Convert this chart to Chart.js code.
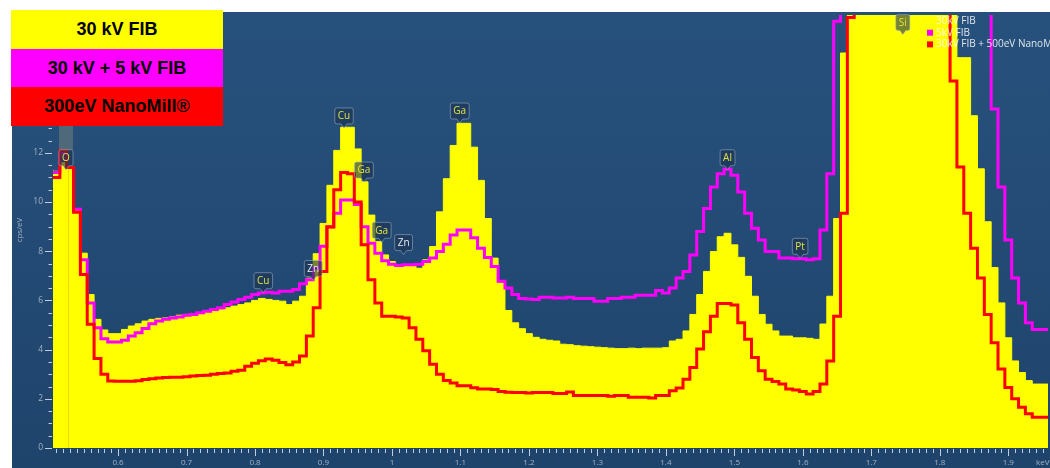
<!DOCTYPE html>
<html>
<head>
<meta charset="utf-8">
<script src="https://cdn.jsdelivr.net/npm/chart.js@4.4.1/dist/chart.umd.min.js"></script>
<style>
  body { margin: 0; background: #fff; }
  #wrap { position: relative; width: 1050px; height: 468px; overflow: hidden; }
  .key {
    position: absolute; left: 11px; width: 212px; height: 39px;
    display: flex; align-items: center; justify-content: center;
    font: bold 18px "Liberation Sans", Arial, sans-serif; color: #000;
  }
</style>
</head>
<body>
<div id="wrap">
  <canvas id="spectrum" width="1050" height="468"></canvas>
</div>
<script>
// Spectrum bins are 10 eV wide, first bin centred on 0.50 keV
const binStart = 0.50;
const binWidth = 0.01;

// 30 kV FIB (yellow filled histogram), cps/eV
const fib30 = [
  11.3, 11.25, 11.6, 11.35, 9.7, 7.92, 6.24, 5.23, 4.8, 4.65,
  4.65, 4.82, 4.96, 5.05, 5.16, 5.23, 5.27, 5.29, 5.33, 5.4,
  5.43, 5.47, 5.5, 5.54, 5.56, 5.62, 5.7, 5.77, 5.83, 5.9,
  6.0, 6.08, 6.04, 6.0, 5.97, 5.83, 5.97, 6.17, 6.9, 7.9,
  9.13, 10.68, 12.1, 13.04, 13.04, 12.16, 10.82, 9.47, 8.39, 7.85,
  7.58, 7.45, 7.45, 7.45, 7.31, 7.65, 8.19, 9.6, 10.95, 12.3,
  13.2, 13.2, 12.23, 10.88, 9.33, 7.72, 6.71, 5.59, 5.09, 4.85,
  4.65, 4.5, 4.42, 4.38, 4.35, 4.22, 4.2, 4.16, 4.14, 4.12,
  4.1, 4.08, 4.06, 4.04, 4.04, 4.06, 4.04, 4.06, 4.06, 4.06,
  4.08, 4.35, 4.42, 4.76, 5.43, 6.24, 7.18, 7.99, 8.59, 8.73,
  8.26, 7.75, 6.98, 6.17, 5.43, 5.03, 4.76, 4.55, 4.55, 4.48,
  4.48, 4.46, 4.42, 5.04, 6.17, 9.33, 16.06, 24, 34, 46,
  58, 66, 70, 71, 70, 66, 58, 48, 38, 30,
  24, 20, 18.2, 15.87, 15.87, 13.51, 11.35, 9.2, 7.34, 5.9,
  4.48, 3.54, 3.07, 2.74, 2.6, 2.6, 2.6
];

// 30 kV + 5 kV FIB (magenta line)
const fib30plus5 = [
  11.2, 11.2, 12.0, 11.4, 9.71, 7.65, 5.9, 4.89, 4.44, 4.31,
  4.31, 4.38, 4.55, 4.69, 4.86, 5.05, 5.16, 5.23, 5.29, 5.33,
  5.4, 5.43, 5.5, 5.56, 5.63, 5.7, 5.83, 5.94, 6.04, 6.13,
  6.24, 6.3, 6.33, 6.3, 6.37, 6.37, 6.44, 6.68, 6.84, 7.31,
  8.2, 9.0, 9.54, 10.08, 10.08, 9.9, 9.0, 8.32, 7.92, 7.61,
  7.47, 7.42, 7.45, 7.45, 7.47, 7.58, 7.72, 7.99, 8.28, 8.66,
  8.86, 8.86, 8.55, 8.12, 7.75, 7.38, 6.78, 6.51, 6.24, 6.08,
  6.06, 6.04, 6.13, 6.13, 6.1, 6.1, 6.13, 6.08, 6.08, 6.08,
  5.97, 5.97, 6.08, 6.08, 6.13, 6.13, 6.21, 6.21, 6.21, 6.4,
  6.3, 6.51, 6.91, 7.18, 7.85, 8.8, 9.74, 10.61, 11.15, 11.33,
  11.09, 10.41, 9.54, 8.93, 8.46, 7.99, 7.99, 7.72, 7.72, 7.69,
  7.69, 7.65, 7.69, 8.86, 11.15, 17.35, 22, 30, 40, 52,
  62, 70, 74, 75, 73, 68, 60, 51, 42, 35,
  30, 26, 23, 21, 19.5, 18.5, 18.2, 18.5, 13.78, 10.61,
  8.46, 6.91, 5.9, 5.09, 4.82, 4.82, 4.82
];

// 300 eV NanoMill (red line)
const nanoMill = [
  11.0, 11.0, 12.1, 11.4, 9.58, 7.05, 5.03, 3.64, 3.0, 2.72,
  2.71, 2.71, 2.71, 2.73, 2.78, 2.82, 2.85, 2.87, 2.88, 2.88,
  2.9, 2.93, 2.95, 2.96, 3.0, 3.03, 3.05, 3.12, 3.16, 3.32,
  3.45, 3.55, 3.62, 3.57, 3.48, 3.38, 3.5, 3.74, 4.55, 5.7,
  7.18, 8.99, 10.5, 11.2, 11.15, 10.0, 8.26, 6.84, 5.9, 5.36,
  5.36, 5.33, 5.29, 4.89, 4.42, 3.95, 3.41, 3.0, 2.74, 2.64,
  2.53, 2.53, 2.45, 2.4, 2.4, 2.38, 2.3, 2.27, 2.26, 2.26,
  2.24, 2.26, 2.26, 2.26, 2.22, 2.22, 2.28, 2.13, 2.13, 2.13,
  2.13, 2.13, 2.1, 2.13, 2.13, 2.06, 2.06, 2.06, 2.03, 2.13,
  2.13, 2.33, 2.44, 2.8, 3.27, 4.02, 4.73, 5.36, 5.87, 5.87,
  5.81, 5.09, 4.42, 3.68, 3.14, 2.8, 2.7, 2.6, 2.4, 2.36,
  2.3, 2.2, 2.3, 2.6, 3.54, 5.36, 9.54, 17.5, 26, 36,
  46, 53, 57, 58, 56, 51, 44, 36, 29, 23,
  19.5, 18, 14.92, 11.42, 9.54, 8.12, 6.91, 5.43, 4.28, 3.21,
  2.46, 2.0, 1.66, 1.39, 1.25, 1.25, 1.25
];

const seriesNames = ['30 kV FIB', '30 kV + 5 kV FIB', '300eV NanoMill®'];
const seriesColors = ['#ffff00', '#ff00ff', '#ff0000'];
const innerLegend = ['30kV FIB', '5kV FIB', '30kV FIB + 500eV NanoMill'];

// element markers: name, energy (keV), tag height (cps/eV)
const peakNames = ['O', 'Cu', 'Zn', 'Cu', 'Ga', 'Ga', 'Zn', 'Ga', 'Al', 'Pt', 'Si'];
const peakEnergy = [0.524, 0.812, 0.885, 0.930, 0.959, 0.985, 1.017, 1.099, 1.490, 1.596, 1.746];
const peakLevel = [11.8, 6.8, 7.3, 13.5, 11.3, 8.85, 8.35, 13.7, 11.8, 8.2, 17.3];

const xLabels = [0.6, 0.7, 0.8, 0.9, 1.0, 1.1, 1.2, 1.3, 1.4, 1.5, 1.6, 1.7, 1.8, 1.9];
const yLabels = [0, 2, 4, 6, 8, 10, 12, 14, 16];

const energies = fib30.map((_, i) => +(binStart + i * binWidth).toFixed(2));
const toPoints = arr => arr.map((v, i) => ({ x: energies[i], y: v }));

const axisText = '#a3b2c5';
const tickColor = '#c3cdd9';

// the three coloured boxes in the top-left corner
const wrap = document.getElementById('wrap');
seriesNames.forEach((name, i) => {
  const d = document.createElement('div');
  d.className = 'key';
  d.style.top = (10 + i * 38.7) + 'px';
  d.style.background = seriesColors[i];
  d.textContent = name;
  wrap.appendChild(d);
});

function tag(ctx, x, y, text, color) {
  ctx.font = '10px "Open Sans", sans-serif';
  const w = Math.max(14, ctx.measureText(text).width + 6);
  const h = 16;
  const l = x - w / 2, t = y - h / 2, r = 2;
  ctx.beginPath();
  ctx.moveTo(l + r, t);
  ctx.arcTo(l + w, t, l + w, t + h, r);
  ctx.arcTo(l + w, t + h, l, t + h, r);
  ctx.lineTo(x + 3, t + h);
  ctx.lineTo(x, t + h + 4);
  ctx.lineTo(x - 3, t + h);
  ctx.arcTo(l, t + h, l, t, r);
  ctx.arcTo(l, t, l + w, t, r);
  ctx.closePath();
  ctx.fillStyle = 'rgba(28, 50, 78, 0.6)';
  ctx.fill();
  ctx.strokeStyle = 'rgba(160, 180, 200, 0.55)';
  ctx.lineWidth = 1;
  ctx.stroke();
  ctx.fillStyle = color;
  ctx.textAlign = 'center';
  ctx.textBaseline = 'middle';
  ctx.fillText(text, x, y + 0.5);
}

// white page edge plus the blue panel behind the plot
const panel = {
  id: 'panel',
  beforeDraw(chart) {
    const ctx = chart.ctx;
    ctx.save();
    ctx.fillStyle = '#fff';
    ctx.fillRect(0, 0, chart.width, chart.height);
    const g = ctx.createLinearGradient(0, 12, 0, chart.height);
    g.addColorStop(0, '#27517d');
    g.addColorStop(1, '#1f446c');
    ctx.fillStyle = g;
    ctx.fillRect(12, 12, chart.width - 12, chart.height - 12);
    ctx.restore();
  }
};

// tick marks, element tags, inner legend, axis titles
const decor = {
  id: 'decor',
  afterDraw(chart) {
    const ctx = chart.ctx;
    const xs = chart.scales.x, ys = chart.scales.y;
    const area = chart.chartArea;
    ctx.save();

    ctx.strokeStyle = tickColor;
    ctx.lineWidth = 1;
    ctx.beginPath();
    for (let k = 0; k <= 32; k++) {
      const py = Math.round(ys.getPixelForValue(k / 2)) + 0.5;
      if (py < area.top) continue;
      ctx.moveTo(k % 4 === 0 ? 45 : 48.5, py);
      ctx.lineTo(52, py);
    }
    for (let k = 51; k <= 195; k++) {
      const px = Math.round(xs.getPixelForValue(k / 100)) + 0.5;
      ctx.moveTo(px, area.bottom + 1);
      ctx.lineTo(px, area.bottom + (k % 10 === 0 ? 8 : 5));
    }
    ctx.stroke();

    // grey marker band above the O line
    const ox = xs.getPixelForValue(peakEnergy[0]);
    const oy = ys.getPixelForValue(peakLevel[0]);
    ctx.fillStyle = 'rgba(130, 140, 125, 0.45)';
    ctx.fillRect(ox - 7, area.top, 14, oy - 8 - area.top);
    ctx.strokeStyle = 'rgba(230, 140, 0, 0.35)';
    ctx.beginPath();
    ctx.moveTo(Math.round(ox) + 2.5, oy + 12);
    ctx.lineTo(Math.round(ox) + 2.5, area.bottom);
    ctx.stroke();

    peakNames.forEach((n, i) => {
      const col = n === 'Zn' ? '#e6edf5' : '#e2e244';
      tag(ctx, xs.getPixelForValue(peakEnergy[i]), ys.getPixelForValue(peakLevel[i]), n, col);
    });

    // legend of the original software, top right
    ctx.font = '10px "Open Sans", sans-serif';
    ctx.textAlign = 'left';
    ctx.textBaseline = 'middle';
    innerLegend.forEach((name, i) => {
      const cy = 21 + i * 11.7;
      ctx.fillStyle = seriesColors[i];
      ctx.fillRect(927, cy - 3, 6, 6);
      ctx.fillStyle = 'rgba(255, 255, 255, 0.85)';
      ctx.fillText(name, 936, cy);
    });

    ctx.fillStyle = axisText;
    ctx.font = '8px "Open Sans", sans-serif';
    ctx.fillText('keV', 1036, 463);
    ctx.translate(20, 230);
    ctx.rotate(-Math.PI / 2);
    ctx.textAlign = 'center';
    ctx.fillText('cps/eV', 0, 0);
    ctx.restore();
  }
};

new Chart(document.getElementById('spectrum'), {
  type: 'line',
  data: {
    datasets: [
      {
        label: seriesNames[2],
        data: toPoints(nanoMill),
        borderColor: seriesColors[2],
        borderWidth: 3,
        fill: false,
        order: 1
      },
      {
        label: seriesNames[1],
        data: toPoints(fib30plus5),
        borderColor: seriesColors[1],
        borderWidth: 3,
        fill: false,
        order: 2
      },
      {
        label: seriesNames[0],
        data: toPoints(fib30),
        borderColor: seriesColors[0],
        backgroundColor: seriesColors[0],
        borderWidth: 1,
        fill: 'origin',
        order: 3
      }
    ]
  },
  options: {
    responsive: false,
    animation: false,
    devicePixelRatio: 1,
    layout: { padding: { left: 12, top: 12, right: 2, bottom: 0 } },
    elements: {
      point: { radius: 0 },
      line: { stepped: 'middle', borderJoinStyle: 'miter', tension: 0 }
    },
    datasets: { line: { clip: 0 } },
    plugins: {
      legend: { display: false },
      tooltip: { enabled: false }
    },
    scales: {
      x: {
        type: 'linear',
        min: 0.505,
        max: 1.958,
        grid: { display: false, drawTicks: false },
        border: { display: false },
        afterBuildTicks: s => { s.ticks = xLabels.map(v => ({ value: v })); },
        afterFit: s => { s.height = 20; },
        ticks: {
          autoSkip: false,
          maxRotation: 0,
          padding: 10,
          color: axisText,
          font: { family: 'Open Sans', size: 8 },
          callback: v => String(+v.toFixed(1))
        }
      },
      y: {
        min: 0,
        max: 17.6,
        grid: { display: false, drawTicks: false },
        border: { display: false },
        afterBuildTicks: s => { s.ticks = yLabels.map(v => ({ value: v })); },
        afterFit: s => { s.width = 41; },
        ticks: {
          padding: 10,
          color: axisText,
          font: { family: 'Open Sans', size: 8.5 },
          callback: v => String(v)
        }
      }
    }
  },
  plugins: [panel, decor]
});
</script>
</body>
</html>
